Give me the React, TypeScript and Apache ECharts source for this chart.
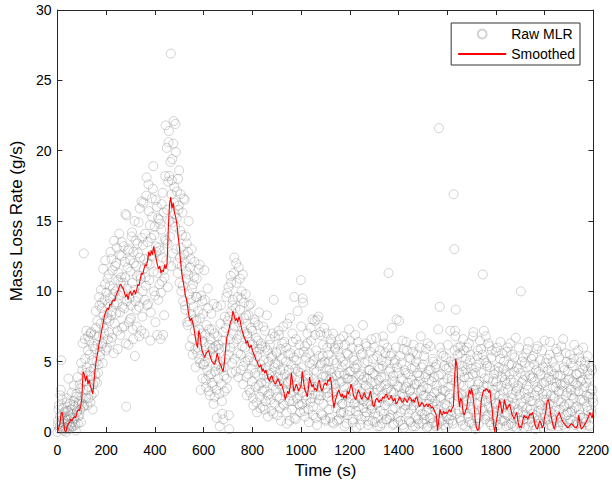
import React, { useEffect, useRef } from "react";
import * as echarts from "echarts";

// Raw MLR samples every 1.5 s, kept as two interleaved lists:
// rawMLRA at t = 0, 3, 6, ...   rawMLRB at t = 1.5, 4.5, 7.5, ...
const RAW_STEP = 3;
const RAW_B_OFFSET = 1.5;
const rawMLRA: number[] = [
  0.0, 0.8, 1.9, 0.4, 2.6, 5.1, 1.2, 0.3, 1.7, 0.6,
  0.2, 1.4, 0.0, 2.1, 0.9, 3.8, 1.1, 0.5, 1.6, 0.3,
  1.3, 0.4, 2.2, 0.9, 1.8, 0.1, 2.7, 1.5, 0.6, 2.0,
  1.2, 3.1, 0.7, 2.5, 4.4, 1.8, 12.7, 3.6, 5.2, 2.4,
  4.6, 1.9, 6.8, 3.2, 5.5, 2.1, 7.1, 4.0, 1.6, 3.4,
  2.8, 5.9, 4.1, 7.4, 3.5, 6.2, 4.8, 9.6, 5.4, 7.7,
  6.1, 9.2, 4.9, 8.3, 7.0, 10.5, 5.8, 9.9, 8.1, 6.6,
  11.2, 7.9, 9.5, 6.4, 12.3, 8.6, 10.2, 5.6, 9.1, 11.8,
  8.4, 13.1, 7.2, 10.8, 9.7, 12.6, 6.9, 11.0, 13.5, 8.9,
  10.6, 7.5, 12.1, 15.5, 1.8, 9.3, 11.7, 6.2, 13.0, 8.0,
  11.4, 9.0, 14.2, 7.3, 12.8, 10.1, 5.4, 13.6, 8.7, 11.1,
  9.6, 14.9, 6.8, 12.4, 10.9, 16.4, 8.2, 13.3, 11.6, 7.0,
  14.1, 10.4, 18.1, 12.0, 9.1, 15.7, 11.9, 6.5, 13.8, 16.6,
  12.5, 18.9, 10.0, 14.6, 7.8, 13.2, 16.0, 11.3, 9.4, 15.1,
  12.9, 6.6, 14.4, 10.7, 17.0, 11.5, 8.3, 13.7, 21.8, 12.2,
  15.8, 10.3, 20.6, 18.2, 13.9, 26.9, 16.9, 19.4, 12.7, 22.1,
  17.4, 14.6, 19.9, 15.2, 12.0, 18.0, 16.1, 10.6, 14.3, 13.1,
  11.8, 15.6, 9.3, 12.6, 16.5, 8.7, 10.9, 13.4, 7.6, 11.2,
  9.8, 6.1, 12.3, 8.4, 10.2, 5.5, 8.9, 11.0, 7.2, 4.6,
  7.9, 9.6, 6.0, 11.6, 5.2, 8.1, 3.0, 7.0, 9.3, 4.8,
  6.4, 11.5, 5.0, 3.7, 7.6, 4.4, 8.8, 2.9, 6.2, 5.7,
  4.1, 7.3, 3.3, 6.0, 9.1, 2.5, 5.4, 4.7, 1.0, 6.8,
  3.8, 5.9, 0.4, 7.7, 4.5, 2.2, 6.5, 0.9, 4.0, 8.2,
  5.2, 9.6, 3.1, 7.9, 10.3, 0.2, 6.6, 11.1, 8.6, 4.9,
  9.4, 6.3, 12.4, 7.5, 4.3, 10.6, 8.0, 5.6, 11.7, 6.9,
  8.7, 4.4, 10.0, 6.1, 3.4, 9.2, 7.1, 5.0, 8.3, 2.6,
  6.8, 4.1, 9.0, 5.3, 2.8, 7.4, 3.6, 6.2, 1.9, 5.0,
  7.8, 3.2, 5.7, 1.4, 6.5, 4.0, 8.5, 2.5, 4.8, 3.5,
  6.1, 1.8, 5.1, 3.0, 7.2, 2.2, 4.6, 5.8, 1.1, 3.8,
  2.7, 6.6, 4.2, 1.5, 5.4, 3.3, 9.4, 2.0, 4.9, 3.6,
  5.6, 1.2, 3.9, 6.9, 2.4, 4.4, 0.8, 5.2, 3.1, 7.5,
  1.9, 4.1, 2.8, 6.0, 0.6, 3.5, 5.5, 2.2, 8.1, 3.7,
  4.8, 1.6, 6.4, 2.9, 9.6, 3.3, 0.9, 5.1, 2.4, 4.3,
  3.0, 6.2, 1.4, 10.8, 4.6, 2.0, 9.2, 5.7, 3.4, 1.1,
  5.3, 2.6, 7.0, 3.8, 0.7, 4.9, 2.1, 6.5, 3.2, 8.0,
  1.8, 4.4, 7.9, 2.7, 5.8, 0.5, 3.6, 8.2, 2.3, 4.7,
  6.9, 1.3, 3.9, 5.4, 2.0, 7.4, 3.1, 0.8, 4.5, 6.0,
  2.5, 5.0, 3.7, 1.0, 6.6, 4.2, 2.8, 7.0, 0.6, 3.4,
  5.9, 1.7, 4.0, 2.3, 6.2, 0.9, 3.5, 5.3, 1.4, 4.6,
  2.0, 6.8, 3.2, 0.4, 4.8, 2.6, 5.6, 1.2, 3.8, 7.3,
  1.5, 4.3, 2.9, 6.0, 0.7, 3.6, 5.1, 2.1, 4.5, 0.3,
  3.1, 6.4, 1.8, 4.0, 2.5, 5.5, 0.9, 3.7, 7.6, 2.2,
  4.9, 1.1, 3.3, 6.1, 2.0, 0.5, 4.4, 2.8, 5.7, 1.6,
  3.5, 0.8, 5.2, 2.4, 4.1, 1.3, 6.7, 3.0, 0.4, 4.6,
  2.1, 5.8, 1.5, 3.9, 0.6, 4.7, 2.7, 6.3, 1.9, 3.4,
  5.0, 0.9, 3.1, 11.3, 2.3, 4.5, 1.2, 5.6, 3.6, 0.5,
  2.8, 4.9, 1.7, 6.0, 8.0, 3.3, 0.7, 4.2, 2.1, 5.4,
  1.4, 3.8, 6.5, 2.5, 0.3, 4.4, 1.9, 3.2, 5.8, 2.0,
  4.1, 0.8, 2.9, 5.2, 1.6, 3.7, 0.4, 6.2, 2.4, 4.6,
  1.1, 3.4, 5.5, 2.2, 0.6, 4.0, 1.8, 6.8, 3.0, 1.3,
  4.8, 2.6, 0.9, 3.9, 5.9, 1.5, 3.1, 0.4, 4.4, 2.3,
  6.1, 1.0, 3.6, 2.0, 5.0, 0.7, 2.8, 4.6, 1.4, 3.3,
  0.5, 7.3, 21.6, 8.9, 2.5, 4.1, 0.8, 3.0, 5.4, 1.7,
  2.9, 0.3, 4.5, 1.9, 6.2, 3.2, 0.9, 2.4, 5.0, 1.2,
  3.7, 0.6, 16.9, 13.0, 7.2, 8.7, 4.9, 2.6, 6.0, 1.5,
  3.4, 5.6, 0.8, 2.7, 4.3, 6.6, 1.6, 3.9, 0.4, 5.2,
  2.2, 4.8, 1.1, 6.3, 3.5, 5.5, 2.8, 0.6, 4.1, 7.1,
  1.4, 3.0, 0.2, 4.6, 2.0, 5.8, 1.0, 3.6, 6.5, 2.5,
  4.2, 1.7, 11.2, 3.3, 5.1, 0.9, 6.8, 2.7, 4.7, 1.2,
  3.8, 6.1, 0.7, 2.3, 5.3, 1.5, 3.6, 0.3, 4.4, 2.0,
  5.7, 1.1, 3.2, 0.5, 4.6, 2.6, 6.4, 1.8, 3.9, 0.8,
  2.9, 5.0, 1.3, 4.1, 0.4, 3.4, 6.0, 2.2, 4.8, 1.6,
  3.7, 0.6, 5.5, 2.4, 1.0, 4.3, 2.0, 6.7, 0.3, 3.1,
  1.4, 4.5, 2.6, 0.5, 10.0, 3.5, 1.8, 5.3, 0.9, 2.8,
  4.0, 1.2, 3.3, 5.9, 0.4, 2.5, 4.7, 1.6, 3.8, 0.7,
  2.2, 5.4, 1.0, 3.6, 0.2, 4.4, 2.9, 6.1, 1.5, 3.0,
  0.6, 4.1, 1.9, 5.8, 2.7, 0.3, 3.5, 1.3, 4.9, 2.3,
  5.2, 1.7, 3.9, 0.5, 6.4, 2.6, 4.3, 1.0, 3.2, 0.8,
  2.4, 4.6, 1.2, 3.5, 5.7, 0.4, 2.9, 1.6, 4.0, 2.1,
  0.7, 3.3, 6.6, 1.8, 4.4, 0.3, 2.6, 5.0, 1.4, 3.7,
  2.0, 5.5, 0.9, 3.0, 1.5, 4.7, 2.4, 6.2, 0.5, 3.4,
  1.8, 4.1, 0.6, 2.9, 5.3, 1.2, 3.6, 0.3, 2.3, 4.5,
  1.0, 3.2, 5.0, 0.7, 2.6, 4.3, 1.5, 3.8, 0.4, 2.7,
  4.6, 1.3, 3.0, 2.1,
];
const rawMLRB: number[] = [
  0.5, 1.6, 0.2, 1.1, 3.0, 0.7, 2.3, 0.9, 0.1, 1.4,
  1.0, 0.3, 2.4, 0.6, 1.5, 0.2, 2.0, 1.2, 0.4, 2.8,
  0.7, 1.9, 3.3, 1.0, 0.5, 2.5, 1.4, 3.9, 1.1, 2.2,
  3.4, 1.6, 4.9, 2.0, 6.3, 3.0, 1.9, 6.6, 4.2, 7.2,
  3.0, 5.8, 2.4, 6.5, 4.3, 7.0, 2.6, 5.1, 6.1, 4.5,
  6.9, 3.6, 8.6, 5.0, 7.9, 4.2, 6.8, 9.0, 5.7, 10.1,
  8.8, 6.3, 11.6, 7.4, 9.4, 12.2, 8.0, 6.0, 10.9, 9.1,
  7.1, 10.4, 12.8, 8.3, 6.7, 11.5, 9.8, 13.6, 7.7, 10.0,
  12.0, 9.2, 5.9, 11.3, 14.1, 8.5, 10.6, 12.5, 7.4, 9.9,
  13.2, 8.8, 11.0, 6.3, 15.4, 10.2, 12.9, 7.8, 9.5, 12.2,
  8.1, 13.9, 10.6, 6.6, 12.0, 15.0, 9.3, 11.8, 7.5, 13.4,
  12.7, 8.9, 15.9, 11.1, 7.2, 13.8, 10.0, 16.3, 12.3, 9.4,
  11.0, 16.8, 9.0, 13.5, 17.6, 10.8, 14.7, 8.5, 12.6, 15.3,
  17.3, 11.4, 14.0, 9.7, 16.5, 12.8, 6.9, 15.2, 13.1, 10.5,
  14.8, 9.9, 16.2, 12.4, 6.9, 15.6, 11.0, 18.2, 13.6, 20.2,
  13.4, 17.8, 21.4, 15.0, 19.2, 11.8, 17.9, 14.9, 20.5, 16.3,
  15.5, 21.9, 13.0, 17.1, 11.3, 15.8, 18.6, 12.4, 16.9, 10.0,
  14.0, 10.4, 16.6, 12.1, 9.0, 13.9, 11.4, 7.8, 12.8, 15.0,
  7.9, 11.7, 9.4, 13.0, 6.6, 10.5, 8.0, 12.1, 5.9, 9.6,
  10.9, 5.6, 8.6, 7.3, 11.9, 4.9, 9.7, 6.5, 3.8, 8.4,
  4.8, 9.4, 6.9, 3.2, 5.5, 10.2, 4.0, 7.3, 2.6, 6.6,
  8.4, 3.5, 5.9, 2.0, 7.0, 4.3, 6.1, 3.0, 8.9, 4.8,
  6.2, 2.7, 5.0, 9.0, 3.4, 1.3, 7.1, 4.6, 2.9, 6.0,
  7.4, 3.8, 9.9, 5.5, 1.2, 8.2, 6.0, 10.6, 4.2, 9.0,
  7.0, 11.3, 5.2, 8.8, 12.0, 6.6, 9.6, 3.9, 7.8, 10.9,
  5.5, 9.5, 7.4, 11.2, 4.7, 8.1, 6.0, 9.8, 3.9, 7.0,
  5.1, 8.3, 3.0, 6.4, 9.1, 4.5, 7.2, 2.4, 5.8, 8.0,
  4.2, 6.7, 2.1, 5.4, 7.6, 3.3, 5.9, 1.7, 6.3, 4.4,
  2.9, 7.5, 4.0, 1.6, 6.0, 3.5, 8.3, 2.6, 5.0, 4.1,
  6.2, 2.3, 5.3, 3.9, 7.0, 1.3, 4.6, 6.8, 3.0, 5.7,
  2.5, 4.8, 7.2, 3.4, 1.7, 5.9, 3.8, 6.3, 2.0, 4.5,
  6.4, 2.9, 5.0, 1.4, 7.7, 3.6, 4.4, 0.8, 5.6, 2.6,
  3.9, 7.0, 2.2, 5.3, 1.0, 4.5, 6.6, 3.1, 8.6, 2.0,
  5.6, 1.9, 4.2, 7.5, 2.8, 9.5, 3.6, 1.5, 6.1, 4.0,
  2.3, 6.3, 4.1, 1.6, 5.6, 3.0, 7.4, 2.4, 4.8, 1.2,
  5.1, 3.2, 6.9, 1.0, 4.3, 8.0, 2.6, 5.4, 3.5, 7.1,
  2.6, 4.9, 1.2, 6.2, 3.4, 5.0, 0.9, 4.0, 7.0, 2.8,
  5.5, 1.6, 4.4, 6.3, 2.2, 3.9, 0.7, 5.1, 2.9, 6.0,
  3.1, 4.9, 0.8, 5.7, 2.4, 4.2, 6.6, 1.3, 3.6, 2.0,
  5.0, 1.4, 4.1, 6.2, 2.7, 0.6, 3.8, 5.5, 2.1, 4.3,
  6.5, 2.4, 3.7, 0.9, 5.3, 2.0, 4.6, 6.9, 1.5, 3.3,
  4.8, 1.2, 5.9, 2.9, 0.5, 4.1, 2.3, 5.6, 1.7, 3.9,
  2.5, 6.3, 1.4, 3.8, 5.0, 0.8, 3.1, 4.4, 1.9, 6.6,
  1.7, 4.2, 2.8, 6.0, 0.7, 3.4, 2.0, 5.4, 1.1, 3.7,
  4.5, 0.4, 3.2, 5.1, 2.4, 6.8, 1.3, 3.9, 5.6, 0.9,
  3.0, 6.0, 2.2, 4.3, 1.0, 5.4, 2.9, 7.4, 1.6, 4.0,
  0.6, 3.6, 5.1, 2.3, 4.6, 1.1, 3.2, 7.9, 2.6, 0.8,
  4.9, 2.7, 0.5, 5.9, 3.1, 1.6, 4.2, 6.4, 2.2, 3.5,
  1.3, 5.3, 3.0, 0.7, 4.5, 2.5, 5.7, 1.9, 3.4, 0.4,
  5.0, 2.1, 4.2, 0.9, 3.6, 6.0, 1.5, 2.9, 4.6, 0.6,
  3.2, 5.4, 1.2, 2.6, 4.1, 0.3, 6.3, 2.0, 3.7, 1.0,
  4.4, 2.5, 0.6, 5.2, 1.8, 3.9, 2.2, 0.4, 4.8, 2.9,
  1.6, 4.0, 0.9, 6.0, 2.4, 5.6, 1.3, 3.5, 0.5, 4.7,
  2.0, 5.3, 1.1, 3.8, 0.6, 4.6, 2.7, 7.2, 1.5, 3.9,
  0.8, 4.8, 2.2, 5.8, 6.8, 3.6, 1.3, 5.5, 2.5, 4.2,
  1.0, 6.1, 2.6, 4.7, 0.5, 3.3, 5.8, 1.9, 4.4, 2.3,
  6.0, 1.3, 3.9, 0.7, 5.1, 2.4, 4.5, 1.6, 6.8, 3.0,
  0.4, 4.2, 2.7, 1.0, 5.4, 3.4, 0.6, 4.9, 2.1, 5.9,
  2.9, 5.5, 1.5, 7.2, 3.8, 2.2, 4.9, 1.1, 3.3, 6.3,
  1.8, 4.6, 2.5, 0.5, 5.8, 3.0, 1.2, 4.1, 2.7, 0.8,
  3.6, 6.0, 1.5, 4.3, 2.1, 5.2, 0.9, 3.3, 5.6, 2.4,
  4.5, 0.8, 3.7, 2.0, 5.7, 1.2, 3.0, 0.5, 4.1, 6.3,
  1.9, 4.8, 2.7, 0.4, 3.5, 5.3, 1.1, 2.9, 4.6, 1.6,
  3.3, 6.0, 0.8, 4.2, 2.1, 5.0, 1.4, 3.7, 0.3, 4.9,
  2.4, 5.6, 1.7, 3.0, 6.4, 0.9, 4.0, 2.2, 5.2, 1.3,
  3.9, 0.5, 4.8, 2.6, 1.2, 5.9, 3.2, 0.8, 4.3, 2.0,
  5.1, 1.6, 3.4, 0.6, 4.6, 2.3, 6.5, 1.0, 3.6, 2.7,
  0.9, 4.4, 2.0, 5.5, 1.4, 3.7, 0.4, 5.0, 2.5, 4.1,
  1.5, 3.2, 5.9, 0.7, 4.0, 2.2, 5.3, 1.1, 3.4, 6.1,
  2.9, 0.5, 4.6, 1.9, 3.5, 5.6, 1.2, 2.8, 4.3, 0.6,
  3.8, 1.4, 4.9, 2.6, 0.8, 3.6, 5.2, 1.7, 2.9, 4.1,
  0.7, 3.3, 5.8, 1.6, 4.2, 2.3, 5.0, 1.0, 3.7, 6.0,
  2.2, 4.7, 0.9, 3.5, 1.8, 5.4, 2.5, 0.5, 4.1, 3.1,
  1.6, 4.4, 2.4,
];

// Smoothed MLR, one value every 5 s starting at t = 0
const SMOOTH_STEP = 5;
const smoothedMLR: number[] = [
  0.0, 0.3, 0.6, 1.3, 1.4, 0.7, 0.1, 0.0, 0.4, 0.6,
  0.7, 0.9, 0.8, 1.0, 1.1, 1.0, 1.4, 1.6, 1.5, 1.8,
  2.4, 4.3, 4.1, 3.6, 4.0, 3.4, 3.7, 3.3, 3.0, 2.7,
  3.6, 4.5, 5.2, 5.6, 6.2, 6.6, 7.1, 7.5, 8.0, 8.4,
  8.6, 8.8, 8.7, 9.1, 9.0, 9.3, 9.4, 9.3, 9.7, 9.9,
  10.1, 10.4, 10.5, 10.3, 10.2, 9.9, 9.6, 9.8, 9.4, 9.9,
  10.0, 9.7, 9.9, 10.1, 9.8, 10.1, 10.5, 10.4, 10.9, 11.3,
  11.2, 11.6, 11.9, 11.8, 12.2, 12.8, 12.5, 12.9, 12.6, 13.2,
  12.7, 12.3, 11.9, 11.6, 11.8, 11.3, 11.5, 11.4, 11.9, 11.6,
  12.0, 14.5, 16.2, 16.7, 15.9, 16.3, 15.6, 15.3, 14.8, 14.0,
  13.2, 12.2, 11.3, 10.8, 10.3, 9.7, 9.4, 8.8, 8.2, 7.9,
  8.1, 7.8, 7.4, 6.8, 6.3, 6.0, 7.2, 6.9, 6.1, 5.7,
  5.5, 5.3, 5.6, 5.7, 5.8, 5.5, 5.2, 5.0, 4.9, 4.8,
  5.1, 5.6, 5.3, 4.9, 4.8, 4.5, 4.3, 4.9, 5.9, 6.7,
  7.0, 7.4, 7.8, 8.0, 8.6, 8.3, 7.9, 8.1, 7.8, 8.2,
  7.9, 7.4, 7.1, 6.8, 6.6, 6.3, 6.5, 6.1, 6.0, 6.2,
  5.8, 5.6, 5.4, 5.1, 5.0, 4.7, 4.6, 4.8, 4.3, 4.5,
  4.2, 4.4, 4.1, 3.8, 3.6, 3.9, 4.0, 3.7, 3.5, 3.4,
  3.6, 3.8, 3.6, 3.3, 3.4, 3.1, 2.8, 2.3, 2.6, 2.9,
  2.7, 3.2, 4.2, 3.6, 2.9, 3.1, 3.4, 3.2, 2.9, 3.1,
  3.3, 4.3, 3.6, 3.0, 2.8, 2.5, 3.1, 3.9, 3.5, 3.2,
  3.4, 3.0, 3.1, 2.9, 3.5, 3.7, 3.2, 2.9, 3.1, 3.4,
  3.5, 3.3, 3.7, 3.6, 3.9, 3.4, 2.3, 1.7, 2.2, 2.5,
  2.8, 3.0, 2.7, 2.5, 2.7, 2.4, 2.6, 2.4, 2.9, 2.7,
  3.0, 3.4, 3.1, 2.6, 2.4, 2.3, 2.7, 3.0, 2.8, 2.5,
  2.3, 2.6, 2.8, 2.5, 2.4, 2.3, 2.6, 2.9, 2.4, 1.9,
  1.8, 2.2, 2.4, 2.3, 2.1, 2.3, 2.2, 2.5, 2.4, 2.6,
  2.7, 2.5, 2.3, 2.4, 2.6, 2.3, 2.2, 2.4, 2.0, 2.1,
  2.3, 2.5, 2.3, 2.1, 2.2, 2.4, 2.3, 2.1, 2.3, 2.5,
  2.4, 2.2, 2.3, 2.1, 2.4, 2.5, 2.2, 1.8, 1.9, 2.1,
  2.0, 1.8, 1.9, 2.0, 1.8, 2.0, 1.9, 1.7, 1.8, 1.6,
  1.4, 1.2, 0.1, 0.8, 1.6, 1.3, 1.2, 1.5, 1.3, 1.4,
  1.3, 1.5, 1.6, 1.4, 1.7, 1.8, 3.8, 5.2, 4.6, 2.8,
  1.8, 2.4, 2.2, 1.4, 1.2, 1.5, 1.7, 2.4, 3.0, 2.7,
  3.1, 2.6, 1.9, 0.8, 0.3, 0.1, 0.2, 1.2, 2.3, 2.7,
  3.0, 2.9, 3.1, 3.0, 2.8, 3.0, 2.2, 1.5, 0.5, 0.0,
  0.6, 1.1, 1.7, 2.3, 1.9, 1.3, 1.7, 2.3, 1.9, 1.6,
  1.8, 2.0, 1.7, 1.3, 1.1, 0.9, 1.2, 1.4, 0.8, 0.3,
  0.4, 0.3, 0.8, 1.2, 1.0, 1.1, 0.9, 1.1, 1.3, 1.2,
  1.4, 1.0, 0.5, 0.3, 0.2, 0.5, 0.8, 0.6, 0.3, 0.5,
  1.1, 1.5, 2.2, 2.3, 1.9, 1.2, 0.8, 0.4, 0.2, 0.6,
  1.1, 1.2, 1.4, 1.1, 0.9, 0.7, 0.6, 0.5, 0.4, 0.3,
  0.4, 0.5, 0.6, 0.5, 0.4, 0.3, 0.3, 0.5, 1.2, 0.6,
  0.2, 0.3, 0.4, 0.6, 0.7, 0.9, 1.1, 1.4, 1.2, 1.0,
  1.5,
];

const X_MIN = 0;
const X_MAX = 2200;
const X_INTERVAL = 200;
const Y_MIN = 0;
const Y_MAX = 30;
const Y_INTERVAL = 5;

const FONT = "'Liberation Sans', Arial, Helvetica, sans-serif";
const AXIS_COLOR = "#262626";

export default function App() {
  const ref = useRef<HTMLDivElement>(null);

  useEffect(() => {
    if (!ref.current) return;
    const chart = echarts.init(ref.current, undefined, { renderer: "svg" });

    const rawData = [
      ...rawMLRA.map((v, i) => [i * RAW_STEP, v]),
      ...rawMLRB.map((v, i) => [i * RAW_STEP + RAW_B_OFFSET, v]),
    ];
    const smoothData = smoothedMLR.map((v, i) => [i * SMOOTH_STEP, v]);

    const axisCommon = {
      type: "value" as const,
      axisLine: { show: true, onZero: false, lineStyle: { color: AXIS_COLOR, width: 1 } },
      axisTick: { show: true, inside: true, length: 5, lineStyle: { color: AXIS_COLOR } },
      splitLine: { show: false },
    };

    chart.setOption({
      animation: false,
      backgroundColor: "#ffffff",
      textStyle: { fontFamily: FONT },
      grid: { left: 57, right: 16, top: 10, bottom: 56, containLabel: false },
      legend: {
        orient: "vertical",
        right: 32,
        top: 23,
        padding: [4, 5, 4, 6],
        itemGap: 6,
        itemWidth: 48,
        itemHeight: 9,
        borderColor: "#333333",
        borderWidth: 1,
        backgroundColor: "#ffffff",
        textStyle: { fontFamily: FONT, fontSize: 14, color: "#000000" },
        data: [
          { name: "Raw MLR" },
          { name: "Smoothed", itemStyle: { opacity: 0 } },
        ],
      },
      xAxis: [
        {
          ...axisCommon,
          min: X_MIN,
          max: X_MAX,
          interval: X_INTERVAL,
          position: "bottom",
          name: "Time (s)",
          nameLocation: "middle",
          nameGap: 26,
          nameTextStyle: { fontFamily: FONT, fontSize: 17, color: "#000000" },
          axisLabel: {
            fontFamily: FONT,
            fontSize: 14,
            color: "#000000",
            margin: 11,
            formatter: (v: number) => String(v),
          },
        },
        {
          ...axisCommon,
          min: X_MIN,
          max: X_MAX,
          interval: X_INTERVAL,
          position: "top",
          axisLabel: { show: false },
        },
      ],
      yAxis: [
        {
          ...axisCommon,
          min: Y_MIN,
          max: Y_MAX,
          interval: Y_INTERVAL,
          position: "left",
          name: "Mass Loss Rate (g/s)",
          nameLocation: "middle",
          nameGap: 30,
          nameTextStyle: { fontFamily: FONT, fontSize: 17, color: "#000000" },
          axisLabel: {
            fontFamily: FONT,
            fontSize: 14,
            color: "#000000",
            margin: 6,
            formatter: (v: number) => String(v),
          },
        },
        {
          ...axisCommon,
          min: Y_MIN,
          max: Y_MAX,
          interval: Y_INTERVAL,
          position: "right",
          axisLabel: { show: false },
        },
      ],
      series: [
        {
          name: "Raw MLR",
          type: "scatter",
          xAxisIndex: 0,
          yAxisIndex: 0,
          symbol: "circle",
          symbolSize: 9,
          clip: true,
          large: false,
          itemStyle: {
            color: "rgba(0,0,0,0)",
            borderColor: "rgba(110,110,110,0.38)",
            borderWidth: 1,
          },
          emphasis: { disabled: true },
          data: rawData,
          z: 2,
        },
        {
          name: "Smoothed",
          type: "line",
          xAxisIndex: 0,
          yAxisIndex: 0,
          symbol: "none",
          showSymbol: false,
          lineStyle: { color: "#ff0000", width: 1.1 },
          itemStyle: { color: "#ff0000" },
          emphasis: { disabled: true },
          data: smoothData,
          z: 3,
        },
      ],
    });

    return () => chart.dispose();
  }, []);

  return <div ref={ref} style={{ width: 612, height: 488, position: "absolute", left: 0, top: 0 }} />;
}
